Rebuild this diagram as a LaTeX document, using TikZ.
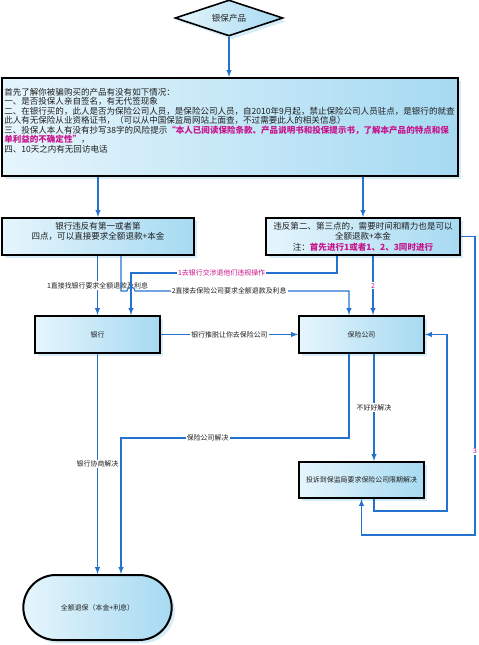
\documentclass[tikz,border=0pt]{standalone}
\usepackage{fontspec}
\setmainfont{Noto Sans CJK SC}
\usepackage{tikz}
\usetikzlibrary{shapes,arrows,shadows,calc}

\definecolor{linecol}{RGB}{36,114,206}
\definecolor{magcol}{RGB}{200,20,140}
\definecolor{boxlo}{RGB}{230,245,252}
\definecolor{boxhi}{RGB}{166,218,242}
\definecolor{shadowcol}{RGB}{214,237,248}
\definecolor{txtcol}{RGB}{30,30,30}

\newcommand{\bigsz}{\fontsize{6.4}{7.5}\selectfont}
\newcommand{\smallsz}{\fontsize{5.2}{6}\selectfont}

\tikzset{
  box/.style={draw=black, line width=1.5pt, left color=boxlo, right color=boxhi,
    drop shadow={shadow xshift=2.5pt, shadow yshift=-2.5pt, fill=shadowcol, opacity=1},
    inner sep=1pt, text=txtcol, font=\bigsz, align=center},
  conn/.style={draw=linecol, line width=0.8pt, -latex},
  lab/.style={fill=white, inner sep=0.8pt, font=\smallsz, text=txtcol},
  maglab/.style={lab, text=magcol},
}

\begin{document}
\begin{tikzpicture}[x=0.75pt,y=0.75pt,yscale=-1,xscale=1]
\useasboundingbox (0,0) rectangle (478,645);
%Flowchart: Decision
\node [box, diamond, aspect=3, minimum width=81pt, minimum height=27pt, inner sep=0pt, line width=1.2pt] (prod) at (229,18) {银保产品};
%Flowchart: Process
\node [box, minimum width=342pt, minimum height=73.5pt] (info) at (230,127) {};
% Text Node
\node [anchor=north west, inner sep=0pt, align=left, text=txtcol, font=\fontsize{6.4}{7.1}\selectfont] (infotext) at (4,88) {首先了解你被骗购买的产品有没有如下情况：\\
一、是否投保人亲自签名，有无代签现象\\
二、在银行买的，此人是否为保险公司人员，是保险公司人员，自2010年9月起，禁止保险公司人员驻点，是银行的就查\\
此人有无保险从业资格证书，（可以从中国保监局网站上面查，不过需要此人的相关信息）\\
三、投保人本人有没有抄写38字的风险提示{\color{magcol}\bfseries“本人已阅读保险条款、产品说明书和投保提示书，了解本产品的特点和保}\\
{\color{magcol}\bfseries 单利益的不确定性”}，\\
四、10天之内有无回访电话};
%Flowchart: Process
\node [box, minimum width=144pt, minimum height=27.75pt, text depth=9pt] (viol1) at (98,236.5) {银行违反有第一或者第\\四点，可以直接要求全额退款+本金};
%Flowchart: Process
\node [box, minimum width=145.5pt, minimum height=27.75pt, font=\fontsize{6.4}{7.8}\selectfont] (viol2) at (363,236.5) {违反第二、第三点的，需要时间和精力也是可以\\全额退款+本金\\注：{\color{magcol}\bfseries 首先进行1或者1、2、3同时进行}};
%Flowchart: Process
\node [box, minimum width=93.75pt, minimum height=27.75pt, font=\smallsz] (bank) at (97.5,334.5) {银行};
%Flowchart: Process
\node [box, minimum width=93.75pt, minimum height=27.75pt, font=\smallsz] (insco) at (361.5,334.5) {保险公司};
%Flowchart: Process
\node [box, minimum width=93.75pt, minimum height=27pt, font=\smallsz] (complain) at (361.5,480) {投诉到保监局要求保险公司限期解决};
%Flowchart: Terminator
\node [box, rounded rectangle, minimum width=113.25pt, minimum height=48.75pt, font=\smallsz] (refund) at (97.5,607.5) {全额退保（本金+利息）};

%Coordinates for bends
\coordinate (s2) at ($(viol1.south)+(23,0)$);
\coordinate (k2) at ($(s2)+(0,35)$);
\coordinate (e2) at ($(insco.north)+(-12.5,0)$);
\coordinate (v1) at ($(bank.north)+(33.5,0)$);
\coordinate (s3) at ($(viol2.south)+(-26,0)$);
\coordinate (e4) at ($(insco.north)+(11.5,0)$);
\coordinate (r3) at ($(viol2.east)+(14,0)$);
\coordinate (b3) at ($(complain.south)+(0,36)$);
\coordinate (s6) at ($(complain.south)+(12.5,0)$);
\coordinate (s9) at ($(insco.south)+(-12.5,0)$);
\coordinate (e9) at ($(refund.north)+(23.5,0)$);

%Straight Lines
\draw [conn] (prod.south) -- (prod.south |- info.north);
\draw [conn] (info.south -| viol1.north) -- (viol1.north);
\draw [conn] (info.south -| viol2.north) -- (viol2.north);
%Straight Lines
\draw [conn] (bank.north |- viol1.south) -- node [lab] {1直接找银行要求全额退款及利息} (bank.north);
\draw [conn] (s2) -- (k2) -- ($(k2 -| v1)+(-4,0)$) arc [start angle=180, end angle=360, radius=4] -- node [lab, pos=0.44] {2直接去保险公司要求全额退款及利息} (k2 -| e2) -- (e2);
\draw [conn] (s3) -- ($(s3)+(0,17)$) -| node [maglab, pos=0.28] {1去银行交涉退他们违规操作} (v1);
\draw [conn] (e4 |- viol2.south) -- node [maglab] {2} (e4);
\draw [conn] (viol2.east) -- (r3) -- node [maglab, pos=0.72] {3} (r3 |- b3) -- (b3) -- (complain.south);
%Straight Lines
\draw [conn] (s6) -- ($(s6)+(0,12)$) -| ($(insco.east)+(22,0)$) -- (insco.east);
\draw [conn] (bank.east) -- node [lab] {银行推脱让你去保险公司} (insco.west);
\draw [conn] ($(insco.south)+(12.5,0)$) -- node [lab] {不好好解决} ($(complain.north)+(12.5,0)$);
\draw [conn] (s9) -- ($(s9)+(0,84)$) -| node [lab, pos=0.31] {保险公司解决} (e9);
\draw [conn] (bank.south) -- node [lab] {银行协商解决} (bank.south |- refund.north);

\end{tikzpicture}
\end{document}
